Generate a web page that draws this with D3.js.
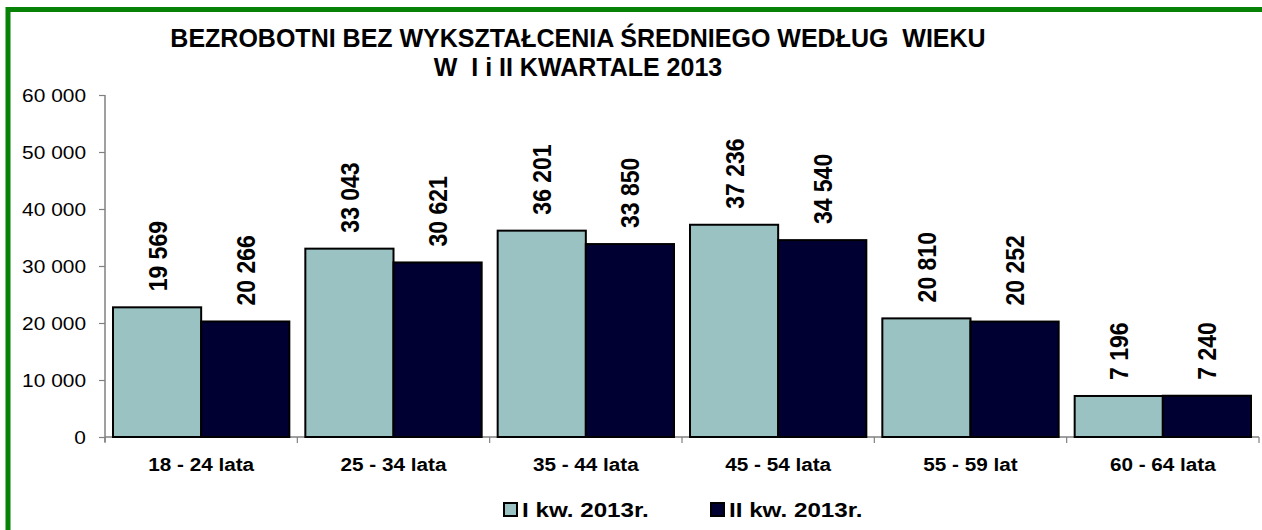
<!DOCTYPE html>
<html>
<head>
<meta charset="utf-8">
<script src="https://cdn.jsdelivr.net/npm/d3@7"></script>
<style>
  html, body { margin: 0; padding: 0; background: #fff; }
  svg { display: block; }
  text { font-family: "Liberation Sans", Arial, sans-serif; white-space: pre; }
</style>
</head>
<body>
<svg id="chart" width="1262" height="530"></svg>
<script>
// ---- data ----
const categories = ["18 - 24 lata", "25 - 34 lata", "35 - 44 lata", "45 - 54 lata", "55 - 59 lat", "60 - 64 lata"];
const seriesNames = ["I kw. 2013r.", "II kw. 2013r."];
// bar heights as drawn in the picture
const valuesQ1 = [22750, 33043, 36201, 37236, 20810, 7196];
const valuesQ2 = [20266, 30621, 33850, 34540, 20252, 7240];
// data labels as printed in the picture
const labelsQ1 = ["19 569", "33 043", "36 201", "37 236", "20 810", "7 196"];
const labelsQ2 = ["20 266", "30 621", "33 850", "34 540", "20 252", "7 240"];
const yTicks = [0, 10000, 20000, 30000, 40000, 50000, 60000];
const titleLines = ["BEZROBOTNI BEZ WYKSZTAŁCENIA ŚREDNIEGO WEDŁUG  WIEKU", "W  I i II KWARTALE 2013"];

const colors = ["#9BC2C2", "#000033"];

const svg = d3.select("#chart");

// frame
svg.append("rect")
  .attr("x", 8).attr("y", 9.5)
  .attr("width", 1300).attr("height", 600)
  .attr("fill", "none").attr("stroke", "#078207").attr("stroke-width", 5);

const pLeft = 105, pRight = 1259, pTop = 95, pBottom = 437;

const x0 = d3.scaleBand().domain(categories).range([pLeft, pRight]).paddingInner(0).paddingOuter(0);
const inner = 8 / 192.3;
const x1 = d3.scaleBand().domain([0, 1]).range([x0.bandwidth() * inner, x0.bandwidth() * (1 - inner)]);
const y = d3.scaleLinear().domain([0, 60000]).range([pBottom, pTop]);

const fmt = v => d3.format(",")(v).replace(/,/g, " ");

// y axis
const yAxis = svg.append("g").attr("transform", `translate(${pLeft},0)`)
  .call(d3.axisLeft(y).tickValues(yTicks).tickSize(6).tickFormat(""));
yAxis.select(".domain").attr("stroke", "#808080").attr("stroke-width", 1.5)
  .attr("d", `M0,${pTop}V${pBottom + 5}`);
yAxis.selectAll(".tick line").attr("stroke", "#808080").attr("stroke-width", 1.2);

// y tick labels
svg.append("g").selectAll("text").data(yTicks).join("text")
  .attr("transform", d => `translate(86,${y(d)}) scale(1.1,1)`)
  .attr("text-anchor", "end").attr("dy", "0.36em")
  .attr("font-size", 19).attr("fill", "#000")
  .text(d => fmt(d));

// x axis
const xAxis = svg.append("g").attr("transform", `translate(0,${pBottom})`)
  .call(d3.axisBottom(x0).tickSize(6).tickFormat(""));
xAxis.select(".domain").attr("stroke", "#808080").attr("stroke-width", 1.5)
  .attr("d", `M${pLeft},0H${pRight}`);
xAxis.selectAll(".tick").remove();
const bounds = categories.map((c) => x0(c)).concat([pRight]);
xAxis.selectAll("line.b").data(bounds).join("line").attr("class", "b")
  .attr("x1", d => d).attr("x2", d => d).attr("y1", 0).attr("y2", 6)
  .attr("stroke", "#808080").attr("stroke-width", 1.2);

// category labels
svg.append("g").selectAll("text").data(categories).join("text")
  .attr("transform", d => `translate(${x0(d) + x0.bandwidth() / 2},471) scale(1.12,1)`)
  .attr("text-anchor", "middle")
  .attr("font-size", 18.5).attr("font-weight", "bold").attr("fill", "#000")
  .text(d => d);

// bars
const rows = categories.map((c, i) => ({ c, v: [valuesQ1[i], valuesQ2[i]], l: [labelsQ1[i], labelsQ2[i]] }));
const groups = svg.append("g").selectAll("g").data(rows).join("g")
  .attr("transform", d => `translate(${x0(d.c)},0)`);

groups.selectAll("rect").data(d => d.v.map((v, k) => ({ v, k }))).join("rect")
  .attr("x", d => x1(d.k)).attr("width", x1.bandwidth())
  .attr("y", d => y(d.v)).attr("height", d => y(0) - y(d.v))
  .attr("fill", d => colors[d.k]).attr("stroke", "#000").attr("stroke-width", 2);

// data labels (rotated)
groups.selectAll("text").data(d => d.v.map((v, k) => ({ v, k, l: d.l[k] }))).join("text")
  .attr("transform", d => `translate(${x1(d.k) + x1.bandwidth() / 2},${y(d.v) - 16}) scale(1.15,1) rotate(-90)`)
  .attr("text-anchor", "start").attr("dy", "0.36em")
  .attr("font-size", 23).attr("font-weight", "bold").attr("fill", "#000")
  .text(d => d.l);

// title
svg.append("g").selectAll("text").data(titleLines).join("text")
  .attr("x", 578).attr("y", (d, i) => i === 0 ? 47 : 76)
  .attr("text-anchor", "middle")
  .attr("font-size", 25).attr("font-weight", "bold").attr("fill", "#000")
  .text(d => d);

// legend
const legendX = [504, 711];
const leg = svg.append("g").selectAll("g").data(seriesNames).join("g")
  .attr("transform", (d, i) => `translate(${legendX[i]},503)`);
leg.append("rect").attr("width", 13).attr("height", 13)
  .attr("fill", (d, i) => colors[i]).attr("stroke", "#000").attr("stroke-width", 2);
leg.append("text")
  .attr("transform", "translate(18,14) scale(1.18,1)")
  .attr("font-size", 20.5).attr("font-weight", "bold").attr("fill", "#000")
  .text(d => d);
</script>
</body>
</html>
